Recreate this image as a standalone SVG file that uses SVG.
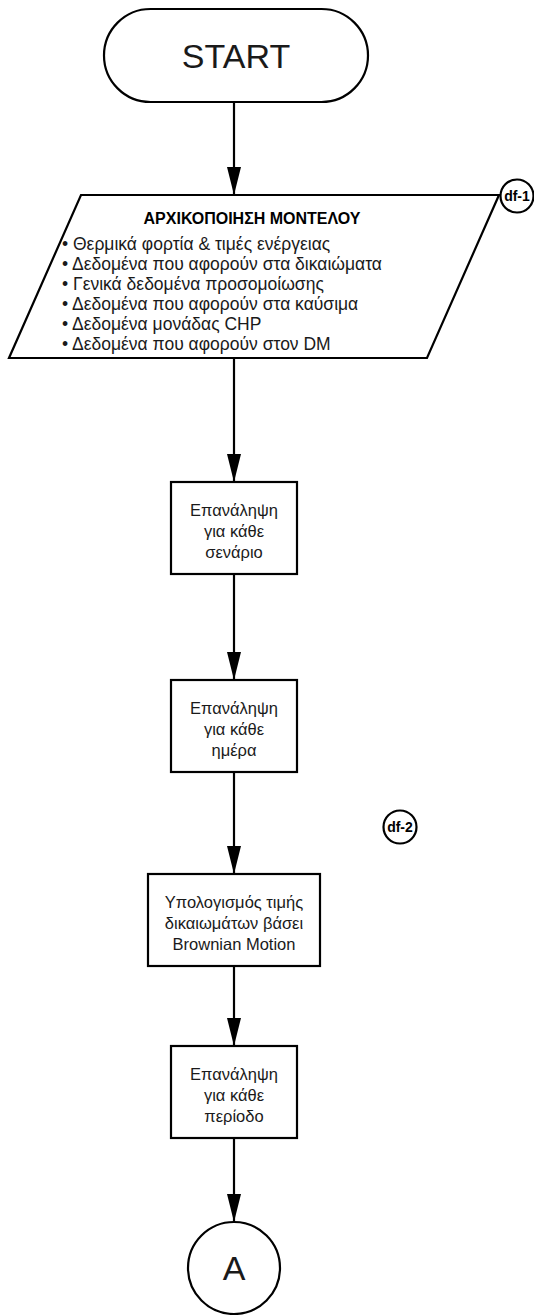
<svg xmlns="http://www.w3.org/2000/svg" width="534" height="1315" viewBox="0 0 534 1315">
<defs>
<marker id="ah" viewBox="0 0 28 14" refX="28" refY="7" markerWidth="28" markerHeight="14" markerUnits="userSpaceOnUse" orient="auto">
<path d="M0,0 L28,7 L0,14 Z" fill="#000"/>
</marker>
<style>
.s{fill:#fff;stroke:#000;stroke-width:2.2}
.t{font-family:"Liberation Sans",Arial,sans-serif;font-size:16.5px;fill:#1a1a1a;text-anchor:middle}
.l{font-family:"Liberation Sans",Arial,sans-serif;font-size:17.5px;fill:#1a1a1a}
.b{font-family:"Liberation Sans",Arial,sans-serif;font-weight:bold;fill:#000;text-anchor:middle}
.c{stroke:#000;stroke-width:2.2;fill:none;marker-end:url(#ah)}
</style>
</defs>
<rect width="534" height="1315" fill="#fff"/>
<g id="connectors">
<line class="c" x1="234" y1="102" x2="234" y2="195"/>
<line class="c" x1="234" y1="358" x2="234" y2="482"/>
<line class="c" x1="234" y1="574" x2="234" y2="680"/>
<line class="c" x1="234" y1="772" x2="234" y2="874"/>
<line class="c" x1="234" y1="966" x2="234" y2="1046"/>
<line class="c" x1="234" y1="1138" x2="234" y2="1222"/>
</g>
<g id="start">
<rect class="s" x="104" y="9" width="264" height="93" rx="46.5"/>
<text class="t" x="236" y="68" style="font-size:34px">START</text>
</g>
<g id="init">
<polygon class="s" points="81,195 499,195 427,358 9,358"/>
<text class="b" x="252" y="224" style="font-size:16px">ΑΡΧΙΚΟΠΟΙΗΣΗ ΜΟΝΤΕΛΟΥ</text>
<text class="l" x="62" y="250">• Θερμικά φορτία &amp; τιμές ενέργειας</text>
<text class="l" x="62" y="270">• Δεδομένα που αφορούν στα δικαιώματα</text>
<text class="l" x="62" y="290">• Γενικά δεδομένα προσομοίωσης</text>
<text class="l" x="62" y="310">• Δεδομένα που αφορούν στα καύσιμα</text>
<text class="l" x="62" y="330">• Δεδομένα μονάδας CHP</text>
<text class="l" x="62" y="350">• Δεδομένα που αφορούν στον DM</text>
</g>
<g id="df1">
<circle class="s" cx="517" cy="196" r="16.5"/>
<text class="b" x="517" y="201" style="font-size:14px">df-1</text>
</g>
<g id="scenario">
<rect class="s" x="171" y="482" width="126" height="92"/>
<text class="t" x="234" y="516">Επανάληψη</text>
<text class="t" x="234" y="537">για κάθε</text>
<text class="t" x="234" y="558">σενάριο</text>
</g>
<g id="day">
<rect class="s" x="171" y="680" width="126" height="92"/>
<text class="t" x="234" y="714">Επανάληψη</text>
<text class="t" x="234" y="735">για κάθε</text>
<text class="t" x="234" y="756">ημέρα</text>
</g>
<g id="df2">
<circle class="s" cx="400" cy="827" r="16.5"/>
<text class="b" x="400" y="832" style="font-size:14px">df-2</text>
</g>
<g id="brownian">
<rect class="s" x="148" y="874" width="172" height="92"/>
<text class="t" x="234" y="908">Υπολογισμός τιμής</text>
<text class="t" x="234" y="929">δικαιωμάτων βάσει</text>
<text class="t" x="234" y="950">Brownian Motion</text>
</g>
<g id="period">
<rect class="s" x="171" y="1046" width="126" height="92"/>
<text class="t" x="234" y="1080">Επανάληψη</text>
<text class="t" x="234" y="1101">για κάθε</text>
<text class="t" x="234" y="1122">περίοδο</text>
</g>
<g id="connA">
<circle class="s" cx="234" cy="1268" r="46"/>
<text class="t" x="234" y="1280" style="font-size:34px">A</text>
</g>
</svg>
